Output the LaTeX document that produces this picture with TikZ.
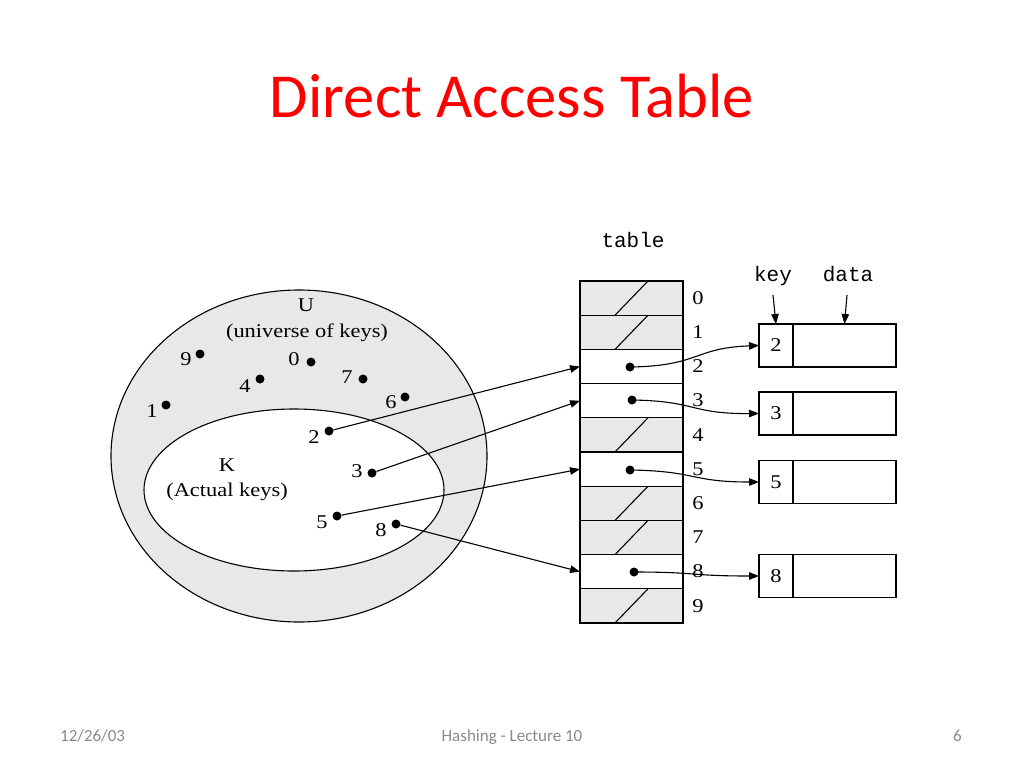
\documentclass[tikz,border=0pt]{standalone}
\usepackage{fontspec}
\setmainfont{Liberation Serif}
\newfontfamily\slidefont{Carlito}
\newfontfamily\diagfont[FakeStretch=1.15]{Liberation Serif}
\newfontfamily\codefont{Liberation Mono}
\usetikzlibrary{arrows.meta,calc}
\definecolor{ugray}{RGB}{232,232,232}
\definecolor{footgray}{RGB}{137,137,137}
\tikzset{
  keydot/.style={circle, fill=black, inner sep=0pt, minimum size=9pt},
  lbl/.style={font=\diagfont\fontsize{19.5}{19.5}\selectfont, inner sep=0pt},
  code/.style={font=\codefont\fontsize{21}{21}\selectfont, inner sep=0pt, anchor=base},
  cell/.style={draw, line width=1.1pt, minimum width=103pt, minimum height=34.2pt, inner sep=0pt, outer sep=0pt},
  emptycell/.style={cell, fill=ugray},
  rec/.style={draw, line width=1.1pt, minimum height=43pt, inner sep=0pt, outer sep=0pt, font=\diagfont\fontsize{19.5}{19.5}\selectfont},
  arr/.style={-{Triangle[length=10pt,width=7.5pt]}, line width=1.1pt},
  foot/.style={font=\slidefont\fontsize{17}{17}\selectfont, text=footgray, inner sep=0pt, anchor=base}
}
\begin{document}
\begin{tikzpicture}[x=1pt,y=-1pt]
\useasboundingbox (0,0) rectangle (1024,768);
% title
\node[anchor=base, text=red, inner sep=0pt, font=\slidefont\fontsize{62.6}{62.6}\selectfont] (title) at (512,117) {Direct Access Table};
% footer
\node[foot, anchor=base west] (date) at (60,741) {12/26/03};
\node[foot] (lecture) at (512,741) {Hashing - Lecture 10};
\node[foot, anchor=base east] (page) at (962,741) {6};

% universe ellipses
\draw[line width=1.1pt, fill=ugray] (299,456) ellipse [x radius=188, y radius=166];
\draw[line width=1.1pt, fill=white] (294,490) ellipse [x radius=150, y radius=81];
\node[lbl] (U) at (306,305) {U};
\node[lbl] (Ut) at (307,333) {(universe of keys)};
\node[lbl] (K) at (227,465) {K};
\node[lbl] (Kt) at (227,492) {(Actual keys)};

% key dots and labels
\foreach \n/\dx/\dy/\lx/\ly in {9/200/354/186/359, 0/311/362/294/359, 4/260/379/245/386, 7/363/379/347/377, 1/166/405/152/411, 6/405/397/391/402, 2/329/431/314/437, 3/372/473/357/471, 5/337/516/322/522, 8/396/524/381/530}{
  \node[keydot] (e\n) at (\dx,\dy) {};
  \node[lbl] (el\n) at (\lx,\ly) {\n};
}

% table
\node[code] (tablelbl) at (633,247) {table};
\foreach \i in {0,...,9}{
  \node[lbl] (idx\i) at (698,{298+34.2*\i}) {\i};
}
\foreach \i in {0,1,4,6,7,9}{
  \node[emptycell] (c\i) at (631.5,{281+34.2*(\i+0.5)}) {};
  \draw[line width=1.1pt] ($(c\i.south west)+(35,0)$) -- ($(c\i.north west)+(68,0)$);
}
\foreach \i in {2,3,5,8}{
  \node[cell, fill=white] (c\i) at (631.5,{281+34.2*(\i+0.5)}) {};
}
\node[keydot] (t2) at (630,367) {};
\node[keydot] (t3) at (632,400) {};
\node[keydot] (t5) at (630,470) {};
\node[keydot] (t8) at (634,572) {};

% records
\node[code] (keylbl) at (773,281) {key};
\node[code] (datalbl) at (848,281) {data};
\foreach \k/\y in {2/345.5, 3/413.5, 5/482, 8/576}{
  \node[rec, minimum width=34pt] (k\k) at (776,\y) {\k};
  \node[rec, minimum width=103pt] (d\k) at (844.5,\y) {};
}
\coordinate (keytop) at (773,295);
\coordinate (datatop) at (847,295);
\draw[arr] (keytop) -- (k2.north);
\draw[arr] (datatop) -- (d2.north);

% arrows from keys to table
\draw[arr] (e2) -- (c2.west);
\draw[arr] (e3) -- (c3.west);
\draw[arr] (e5) -- (c5.west);
\draw[arr] (e8) -- (c8.west);

% arrows from table to records
\draw[arr] (t2.center) .. controls (700,366) and (693,348) .. (k2.west);
\draw[arr] (t3.center) .. controls (697,401) and (690,414) .. (k3.west);
\draw[arr] (t5.center) .. controls (697,471) and (690,482) .. (k5.west);
\draw[arr] (t8.center) .. controls (697,572) and (690,576) .. (k8.west);
\end{tikzpicture}
\end{document}
